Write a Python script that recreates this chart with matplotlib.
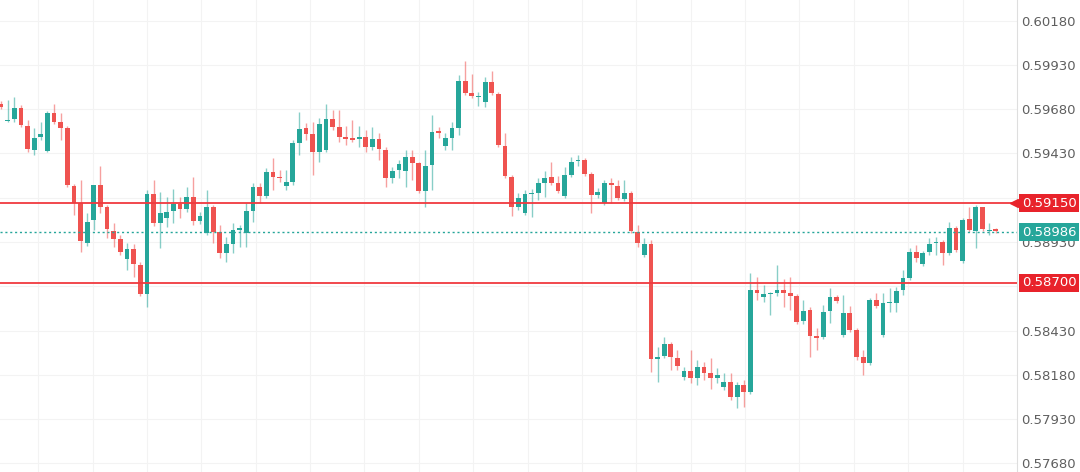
import matplotlib
matplotlib.use("Agg")
import matplotlib.pyplot as plt
import numpy as np

# candle data (oldest -> newest)
opens = [
    0.59709, 0.59613, 0.59625, 0.59687, 0.59585, 0.59450, 0.59523, 0.59444, 0.59659, 0.59608,
    0.59574, 0.59246, 0.59150, 0.58924, 0.59054, 0.59252, 0.59127, 0.58992, 0.58947, 0.58834,
    0.58890, 0.58800, 0.58636, 0.59201, 0.59037, 0.59065, 0.59105, 0.59144, 0.59116, 0.59184,
    0.59048, 0.58981, 0.59127, 0.58986, 0.58868, 0.58918, 0.58998, 0.58981, 0.59105, 0.59240,
    0.59190, 0.59325, 0.59297, 0.59246, 0.59269, 0.59489, 0.59574, 0.59540, 0.59438, 0.59450,
    0.59625, 0.59579, 0.59523, 0.59517, 0.59512, 0.59523, 0.59466, 0.59512, 0.59450, 0.59291,
    0.59337, 0.59331, 0.59410, 0.59376, 0.59218, 0.59365, 0.59557, 0.59472, 0.59517, 0.59574,
    0.59839, 0.59772, 0.59749, 0.59721, 0.59834, 0.59766, 0.59472, 0.59297, 0.59127, 0.59094,
    0.59201, 0.59207, 0.59263, 0.59297, 0.59263, 0.59190, 0.59308, 0.59387, 0.59393, 0.59314,
    0.59195, 0.59150, 0.59263, 0.59246, 0.59173, 0.59207, 0.58986, 0.58856, 0.58918, 0.58269,
    0.58286, 0.58353, 0.58274, 0.58167, 0.58201, 0.58161, 0.58223, 0.58190, 0.58161, 0.58110,
    0.58139, 0.58054, 0.58122, 0.58082, 0.58659, 0.58619, 0.58636, 0.58642, 0.58659, 0.58642,
    0.58625, 0.58483, 0.58546, 0.58399, 0.58393, 0.58540, 0.58619, 0.58404, 0.58529, 0.58433,
    0.58280, 0.58246, 0.58602, 0.58404, 0.58585, 0.58585, 0.58659, 0.58726, 0.58873, 0.58805,
    0.58873, 0.58924, 0.58930, 0.58868, 0.59009, 0.58822, 0.59060, 0.58992, 0.59127, 0.58992,
    0.59003,
]
highs = [
    0.59726, 0.59732, 0.59749, 0.59704, 0.59619, 0.59574, 0.59608, 0.59670, 0.59709, 0.59659,
    0.59585, 0.59257, 0.59280, 0.59094, 0.59252, 0.59359, 0.59139, 0.59037, 0.58969, 0.58924,
    0.58918, 0.58817, 0.59224, 0.59280, 0.59212, 0.59184, 0.59229, 0.59184, 0.59240, 0.59297,
    0.59099, 0.59224, 0.59139, 0.59026, 0.58958, 0.59037, 0.59026, 0.59150, 0.59263, 0.59263,
    0.59348, 0.59404, 0.59337, 0.59337, 0.59506, 0.59664, 0.59602, 0.59608, 0.59630, 0.59709,
    0.59676, 0.59676, 0.59585, 0.59619, 0.59585, 0.59563, 0.59579, 0.59546, 0.59466, 0.59353,
    0.59393, 0.59450, 0.59450, 0.59382, 0.59450, 0.59647, 0.59579, 0.59546, 0.59608, 0.59873,
    0.59952, 0.59879, 0.59777, 0.59862, 0.59896, 0.59777, 0.59546, 0.59308, 0.59207, 0.59224,
    0.59229, 0.59291, 0.59331, 0.59382, 0.59303, 0.59353, 0.59410, 0.59421, 0.59404, 0.59325,
    0.59235, 0.59280, 0.59291, 0.59280, 0.59280, 0.59218, 0.59026, 0.58952, 0.58941, 0.58336,
    0.58393, 0.58365, 0.58320, 0.58223, 0.58320, 0.58263, 0.58252, 0.58274, 0.58218, 0.58190,
    0.58190, 0.58139, 0.58150, 0.58755, 0.58732, 0.58687, 0.58647, 0.58800, 0.58721, 0.58732,
    0.58636, 0.58602, 0.58562, 0.58444, 0.58574, 0.58670, 0.58630, 0.58630, 0.58568, 0.58444,
    0.58320, 0.58613, 0.58642, 0.58642, 0.58670, 0.58675, 0.58772, 0.58896, 0.58913, 0.58879,
    0.58952, 0.58958, 0.58941, 0.59043, 0.59020, 0.59065, 0.59127, 0.59139, 0.59127, 0.59037,
    0.59009,
]
lows = [
    0.59681, 0.59608, 0.59608, 0.59579, 0.59438, 0.59421, 0.59506, 0.59438, 0.59596, 0.59506,
    0.59240, 0.59082, 0.58873, 0.58907, 0.58998, 0.59094, 0.58952, 0.58901, 0.58856, 0.58772,
    0.58732, 0.58625, 0.58562, 0.59020, 0.58896, 0.59014, 0.59037, 0.59065, 0.59099, 0.59026,
    0.59031, 0.58969, 0.58924, 0.58839, 0.58817, 0.58868, 0.58901, 0.58901, 0.59043, 0.59150,
    0.59178, 0.59224, 0.59269, 0.59224, 0.59252, 0.59421, 0.59506, 0.59308, 0.59382, 0.59438,
    0.59563, 0.59495, 0.59478, 0.59495, 0.59466, 0.59438, 0.59450, 0.59393, 0.59240, 0.59263,
    0.59291, 0.59240, 0.59280, 0.59207, 0.59127, 0.59224, 0.59517, 0.59450, 0.59450, 0.59534,
    0.59760, 0.59743, 0.59698, 0.59692, 0.59760, 0.59466, 0.59291, 0.59077, 0.59111, 0.59082,
    0.59071, 0.59167, 0.59184, 0.59252, 0.59207, 0.59178, 0.59297, 0.59359, 0.59303, 0.59094,
    0.59178, 0.59139, 0.59150, 0.59167, 0.59161, 0.58981, 0.58901, 0.58845, 0.58195, 0.58139,
    0.58274, 0.58207, 0.58207, 0.58150, 0.58133, 0.58122, 0.58150, 0.58099, 0.58133, 0.58093,
    0.58037, 0.57992, 0.57997, 0.58071, 0.58602, 0.58591, 0.58517, 0.58625, 0.58562, 0.58546,
    0.58466, 0.58466, 0.58280, 0.58320, 0.58382, 0.58472, 0.58585, 0.58393, 0.58421, 0.58263,
    0.58178, 0.58235, 0.58557, 0.58393, 0.58534, 0.58534, 0.58630, 0.58715, 0.58817, 0.58794,
    0.58856, 0.58856, 0.58800, 0.58856, 0.58873, 0.58811, 0.58986, 0.58896, 0.58992, 0.58969,
    0.58981,
]
closes = [
    0.59692, 0.59619, 0.59687, 0.59591, 0.59455, 0.59517, 0.59540, 0.59659, 0.59608, 0.59574,
    0.59252, 0.59150, 0.58935, 0.59043, 0.59252, 0.59127, 0.59003, 0.58947, 0.58873, 0.58890,
    0.58805, 0.58636, 0.59201, 0.59037, 0.59094, 0.59099, 0.59144, 0.59116, 0.59184, 0.59048,
    0.59077, 0.59127, 0.58986, 0.58868, 0.58918, 0.58998, 0.59009, 0.59105, 0.59240, 0.59190,
    0.59325, 0.59297, 0.59291, 0.59269, 0.59489, 0.59568, 0.59540, 0.59438, 0.59596, 0.59625,
    0.59579, 0.59523, 0.59512, 0.59506, 0.59523, 0.59466, 0.59512, 0.59455, 0.59291, 0.59331,
    0.59370, 0.59410, 0.59376, 0.59218, 0.59359, 0.59551, 0.59546, 0.59517, 0.59574, 0.59839,
    0.59772, 0.59755, 0.59755, 0.59834, 0.59772, 0.59478, 0.59303, 0.59127, 0.59178, 0.59201,
    0.59207, 0.59263, 0.59291, 0.59263, 0.59218, 0.59308, 0.59382, 0.59393, 0.59314, 0.59195,
    0.59212, 0.59263, 0.59252, 0.59178, 0.59207, 0.58992, 0.58924, 0.58918, 0.58269, 0.58280,
    0.58353, 0.58280, 0.58229, 0.58201, 0.58161, 0.58223, 0.58190, 0.58161, 0.58178, 0.58139,
    0.58054, 0.58122, 0.58082, 0.58659, 0.58642, 0.58636, 0.58642, 0.58659, 0.58642, 0.58625,
    0.58478, 0.58540, 0.58399, 0.58387, 0.58534, 0.58619, 0.58596, 0.58529, 0.58433, 0.58280,
    0.58246, 0.58602, 0.58568, 0.58585, 0.58591, 0.58653, 0.58726, 0.58873, 0.58839, 0.58868,
    0.58918, 0.58930, 0.58868, 0.59009, 0.58885, 0.59054, 0.58998, 0.59127, 0.59003, 0.58998,
    0.58992,
]

resistance = 0.59150
support = 0.58700
last_price = 0.58986
price_ticks = [0.60180, 0.59930, 0.59680, 0.59430, 0.59180, 0.58930,
               0.58680, 0.58430, 0.58180, 0.57930, 0.57680]

UP = "#26a69a"
DOWN = "#ef5350"
LEVEL = "#f0393f"
TAG_RED = "#e8232b"

fig = plt.figure(figsize=(10.8, 4.72), dpi=100)
ax = fig.add_axes([0, 0, 1017 / 1080, 1])

o = np.array(opens)
h = np.array(highs)
l = np.array(lows)
c = np.array(closes)
x = np.arange(len(o))
colors = np.where(c >= o, UP, DOWN)

# wicks then bodies
ax.vlines(x, l, h, colors=colors, linewidth=1.0, alpha=0.55, zorder=2)
body_h = np.maximum(np.abs(c - o), 0.00006)
ax.bar(x, body_h, bottom=np.minimum(o, c), width=0.72, color=colors,
       linewidth=0, zorder=3)

# horizontal levels
ax.axhline(resistance, color=LEVEL, linewidth=1.3, zorder=4)
ax.axhline(support, color=LEVEL, linewidth=1.3, zorder=4)
ax.axhline(last_price, color=UP, linewidth=1.0, linestyle=(0, (1.5, 2)), zorder=4)

ax.set_xlim(-0.15, 153.2)
ax.set_ylim(0.57631, 0.60297)

# price scale on the right
ax.yaxis.tick_right()
ax.set_yticks(price_ticks)
ax.set_yticklabels([f"{t:.5f}" for t in price_ticks])
ax.tick_params(axis="y", length=0, pad=3, labelsize=9.5, labelcolor="#5f5f5f")
ax.set_xticks(np.arange(5.6, 153, 8.2))
ax.tick_params(axis="x", length=0, labelbottom=False)
ax.grid(True, color="#f3f3f3", linewidth=0.8, zorder=0)
ax.set_axisbelow(True)

for side in ["top", "left", "bottom"]:
    ax.spines[side].set_visible(False)
ax.spines["right"].set_color("#dedede")

# price tags
for level, col in [(resistance, TAG_RED), (last_price, UP), (support, TAG_RED)]:
    ax.annotate(f"{level:.5f}", xy=(1.0, level), xycoords=("axes fraction", "data"),
                xytext=(3.5, 0), textcoords="offset points", ha="left", va="center",
                color="white", fontsize=9.5,
                bbox=dict(boxstyle="square,pad=0.18", fc=col, ec="none"),
                annotation_clip=False, zorder=10)

ax.plot([0.997], [resistance], marker="<", markersize=6, color=TAG_RED,
        transform=ax.get_yaxis_transform(), clip_on=False, zorder=10)

fig.savefig("out.png", dpi=100)
